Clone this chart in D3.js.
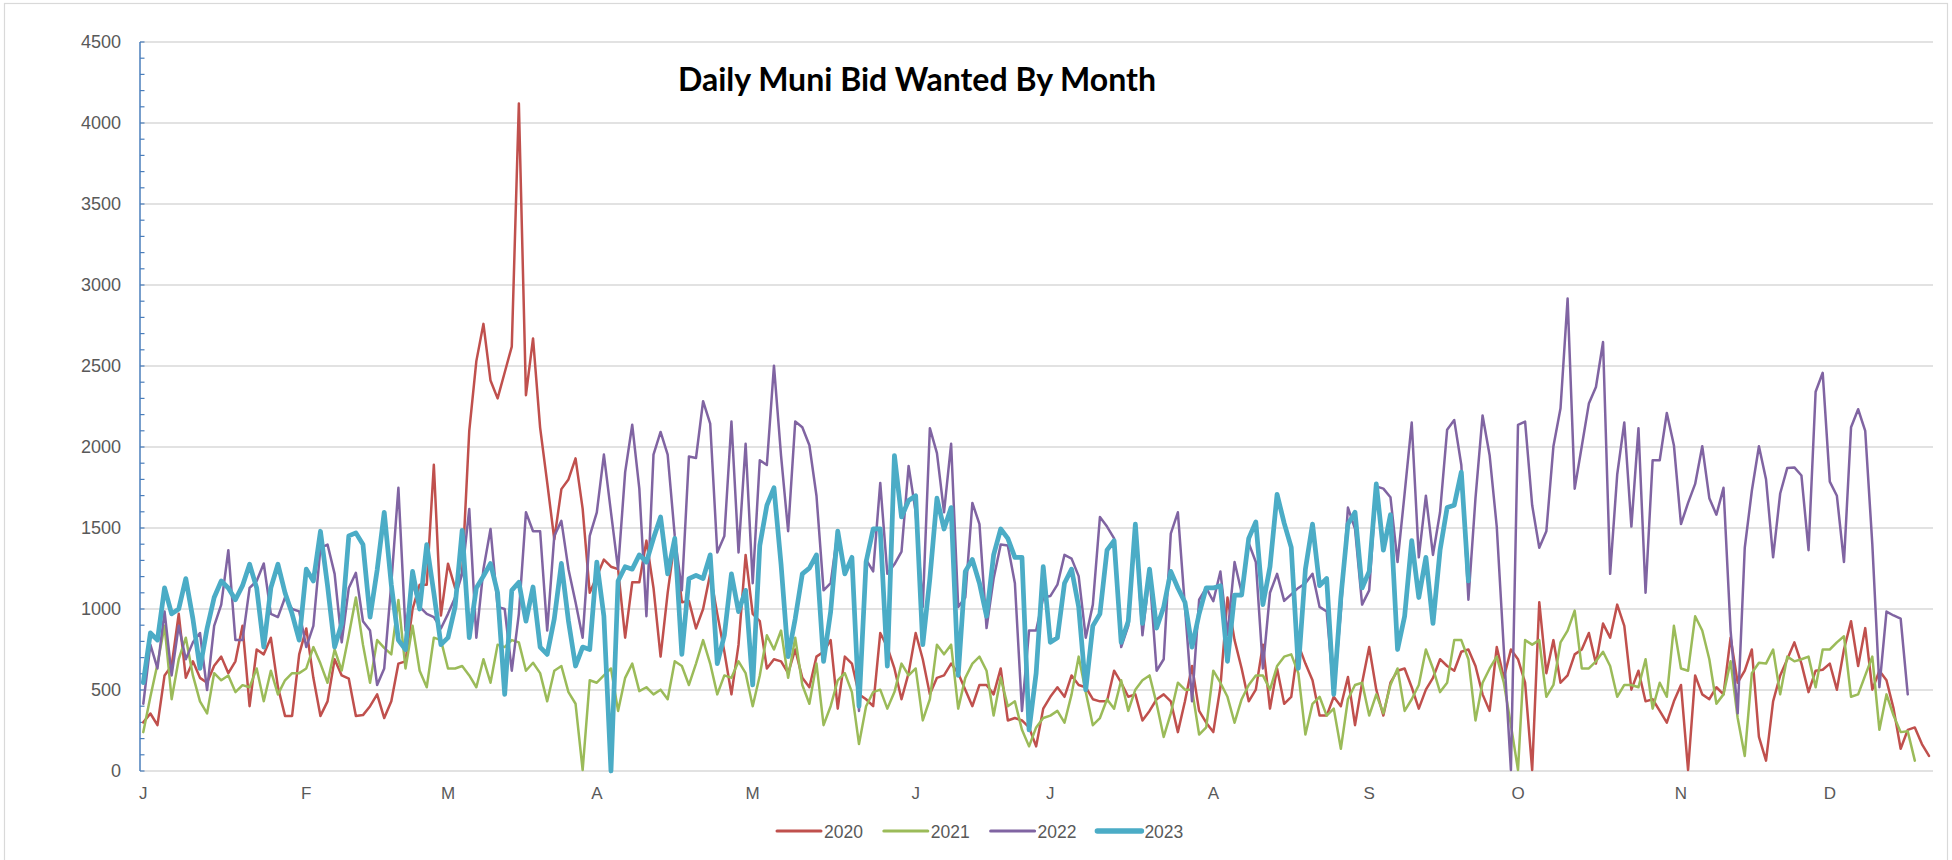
<!DOCTYPE html>
<html><head><meta charset="utf-8">
<script src="https://cdn.jsdelivr.net/npm/d3@7"></script>
<style>body{margin:0;background:#fff}</style>
</head><body>
<svg id="chart" width="1952" height="860"></svg>
<script>
const title = "Daily Muni Bid Wanted By Month";
const monthLabels = ["J","F","M","A","M","J","J","A","S","O","N","D"];
const monthIndex = [0,23,43,64,86,109,128,151,173,194,217,238];
const yTickValues = [0,500,1000,1500,2000,2500,3000,3500,4000,4500];
const seriesNames = ["2020","2021","2022","2023"];

const v2020 = [300,355,283,590,650,970,575,677,575,545,650,706,604,677,896,400,750,720,823,518,340,340,720,880,575,340,430,690,590,570,340,345,400,
473,327,430,663,677,1000,1150,1150,1890,960,1280,1130,1220,2100,2530,2760,2410,2300,2460,2620,4120,2320,2670,2120,1780,1430,1740,1800,1930,1620,1100,
1200,1305,1261,1246,823,1165,1165,1422,1130,706,1100,1422,1042,1050,880,1000,1217,970,736,473,780,1334,970,925,633,690,677,604,750,575,517,706,736,808,
385,706,663,473,443,400,852,765,633,443,604,852,690,473,575,590,663,604,502,400,531,531,473,633,312,327,312,269,152,385,458,517,
458,590,531,517,443,430,430,619,545,458,473,312,371,443,473,430,240,430,648,371,298,240,517,1071,808,633,430,502,780,385,633,415,458,
780,663,560,342,342,458,400,580,283,545,765,502,342,545,619,633,517,385,502,575,690,648,619,736,750,648,473,371,765,575,750,690,
545,6,1042,604,808,545,590,720,750,852,663,910,823,1027,896,502,619,430,443,371,298,430,531,6,590,473,443,517,473,823,545,620,750,
210,64,430,590,690,794,663,487,619,625,663,502,750,925,648,882,502,619,560,385,137,254,269,166,93];

const v2021 = [240,458,660,896,443,690,823,590,430,355,604,560,590,487,530,517,633,430,619,473,560,604,604,633,765,663,545,750,620,838,1071,780,545,
808,760,720,1056,633,896,619,517,823,808,633,633,648,590,517,690,545,780,765,808,794,619,668,604,430,619,648,487,415,6,560,545,
590,633,371,575,663,493,517,473,502,443,677,648,531,663,808,663,473,590,575,677,604,400,590,838,750,867,575,823,531,415,663,283,400,
560,604,487,166,400,487,502,385,487,663,590,633,312,443,780,720,780,385,575,663,706,619,342,575,400,430,254,152,269,327,342,371,
298,473,706,487,283,327,443,385,560,371,502,560,590,415,210,356,545,502,502,225,269,619,545,458,298,443,531,590,590,502,648,706,720,
604,225,415,458,342,385,137,443,531,545,342,473,356,531,633,371,443,531,750,633,487,545,808,808,690,312,545,633,706,545,283,6,
808,780,808,458,531,794,867,990,633,633,677,736,648,458,531,531,517,690,385,545,458,896,633,619,955,867,690,415,473,677,327,93,
604,668,663,750,473,706,677,690,706,517,750,750,794,832,458,473,590,706,254,473,342,240,245,64];

const v2022 = [415,780,633,985,590,896,690,794,852,500,896,1027,1363,808,808,1130,1173,1281,970,950,1071,1000,985,765,896,1378,1398,1217,794,1130,1223,925,867,
531,633,1159,1748,867,1159,1013,970,950,880,970,1071,1217,1617,823,1246,1494,1013,1000,619,970,1597,1480,1480,867,1451,1544,1246,1042,823,
1451,1597,1953,1597,1246,1845,2137,1743,955,1953,2093,1953,1451,1115,1941,1932,2283,2145,1349,1451,2157,1349,2020,1159,1918,1889,2502,1947,1480,2157,2122,2011,1699,1115,1159,
1480,1217,1300,371,1305,1232,1778,1217,1276,1354,1883,1597,1013,2116,1962,1597,2020,1013,1071,1655,1524,882,1188,1398,1392,1159,371,867,867,1071,1080,1150,
1334,1311,1203,823,1027,1568,1509,1436,765,896,1509,838,1217,619,690,1465,1597,1013,430,1057,1130,1048,1232,838,1290,1100,1407,1290,633,1100,1217,1050,1090,
1130,1159,1217,1013,985,473,985,1626,1494,1027,1115,1757,1743,1690,1290,1713,2151,1319,1699,1334,1597,2107,2166,1889,1057,1684,2195,1947,1509,750,6,2137,
2157,1640,1378,1480,2005,2239,2916,1743,2005,2268,2370,2648,1217,1830,2151,1509,2116,1100,1918,1918,2210,2011,1524,1655,1772,2005,1684,1582,1748,867,356,1378,1730,
2005,1801,1319,1713,1871,1874,1824,1363,2341,2458,1786,1699,1290,2122,2233,2099,1400,517,984,960,940,473];

const v2023 = [546,852,808,1130,970,1000,1188,940,633,880,1071,1173,1130,1057,1144,1276,1130,765,1130,1276,1100,970,808,1246,1173,1480,1144,765,910,1451,1470,1398,950,
1240,1597,1150,808,750,1232,1000,1398,1100,780,823,1013,1486,823,1130,1203,1281,1100,473,1115,1165,925,1136,765,720,940,1281,925,648,765,
750,1290,955,0,1173,1261,1246,1334,1290,1436,1568,1217,1436,720,1188,1208,1188,1334,663,838,1217,984,1115,531,1392,1640,1748,1276,706,940,1217,1252,1334,677,984,
1480,1217,1319,400,1290,1494,1494,648,1947,1568,1670,1699,780,1188,1684,1494,1626,590,1232,1305,1159,955,1334,1494,1436,1319,1319,254,604,1261,794,823,
1159,1246,1013,502,896,970,1363,1422,794,925,1524,911,1246,882,1013,1232,1130,1042,765,970,1130,1130,1144,677,1086,1086,1436,1538,1027,1261,1708,1530,1380,
633,1246,1524,1144,1188,473,1071,1524,1597,1130,1232,1772,1363,1582,750,955,1422,1071,1319,911,1363,1626,1640,1845,1173];

const seriesValues = [v2020, v2021, v2022, v2023];
const seriesColors = ["#C0504D","#9BBB59","#8064A2","#4BACC6"];
const seriesWidths = [2.5, 2.5, 2.5, 4.75];

const svg = d3.select("#chart");
svg.append("rect").attr("x",0).attr("y",0).attr("width",1952).attr("height",860).attr("fill","#fff");
svg.append("rect").attr("x",4.5).attr("y",3.5).attr("width",1943).attr("height",870)
  .attr("fill","none").attr("stroke","#d9d9d9").attr("stroke-width",1.2);

const plotLeft = 140, plotRight = 1933, plotTop = 42, plotBottom = 771;
const x = d3.scaleLinear().domain([0, 252]).range([143.3, 1929]);
const y = d3.scaleLinear().domain([0, 4500]).range([plotBottom, plotTop]);

// gridlines
svg.append("g").selectAll("line").data(yTickValues).join("line")
  .attr("x1", plotLeft).attr("x2", plotRight)
  .attr("y1", d => y(d)).attr("y2", d => y(d))
  .attr("stroke", "#d9d9d9").attr("stroke-width", 1.3);

// y axis
const yAxis = d3.axisLeft(y).tickValues(yTickValues).tickFormat(d3.format("d")).tickSize(0).tickPadding(19);
const ya = svg.append("g").attr("transform", `translate(${plotLeft},0)`).call(yAxis);
ya.select(".domain").remove();
ya.selectAll("text").attr("fill","#595959").style("font-family","'Liberation Sans', Arial, sans-serif").style("font-size","18px");
// minor ticks every 100
svg.append("g").selectAll("line").data(d3.range(0, 4501, 100)).join("line")
  .attr("x1", plotLeft).attr("x2", plotLeft + 4.5)
  .attr("y1", d => y(d)).attr("y2", d => y(d))
  .attr("stroke", "#4a7ebb").attr("stroke-width", 1.2);
svg.append("line").attr("x1", plotLeft).attr("x2", plotLeft)
  .attr("y1", plotTop).attr("y2", plotBottom)
  .attr("stroke", "#4a7ebb").attr("stroke-width", 1.5);

// x labels
svg.append("g").selectAll("text").data(monthLabels).join("text")
  .attr("x", (d,i) => x(monthIndex[i])).attr("y", 799)
  .attr("text-anchor","middle").attr("fill","#595959")
  .style("font-family","'Liberation Sans', Arial, sans-serif").style("font-size","17px")
  .text(d => d);

// lines
const line = d3.line().x((d,i) => x(i)).y(d => y(d)).curve(d3.curveLinear);
seriesValues.forEach((vals, k) => {
  svg.append("path").datum(vals)
    .attr("d", line).attr("fill","none")
    .attr("stroke", seriesColors[k]).attr("stroke-width", seriesWidths[k])
    .attr("stroke-linejoin","round").attr("stroke-linecap","round");
});

// title
const t = svg.append("text").attr("x", 917).attr("y", 91).attr("text-anchor","middle")
  .style("font-family","Lato, 'Open Sans', sans-serif").style("font-weight","700")
  .style("font-size","32px").attr("fill","#000").text(title);
const w = t.node().getComputedTextLength();
t.style("font-size", (32 * 478 / w).toFixed(2) + "px");

// legend
const lg = svg.append("g");
seriesNames.forEach((name, k) => {
  const x0 = 777 + k * 106.8;
  lg.append("line").attr("x1", x0).attr("x2", x0 + 44).attr("y1", 831).attr("y2", 831)
    .attr("stroke", seriesColors[k]).attr("stroke-width", k === 3 ? 5.5 : 3)
    .attr("stroke-linecap","round");
  lg.append("text").attr("x", x0 + 47).attr("y", 837.5).attr("fill","#595959")
    .style("font-family","'Liberation Sans', Arial, sans-serif").style("font-size","17.5px")
    .text(name);
});
</script>
</body></html>
